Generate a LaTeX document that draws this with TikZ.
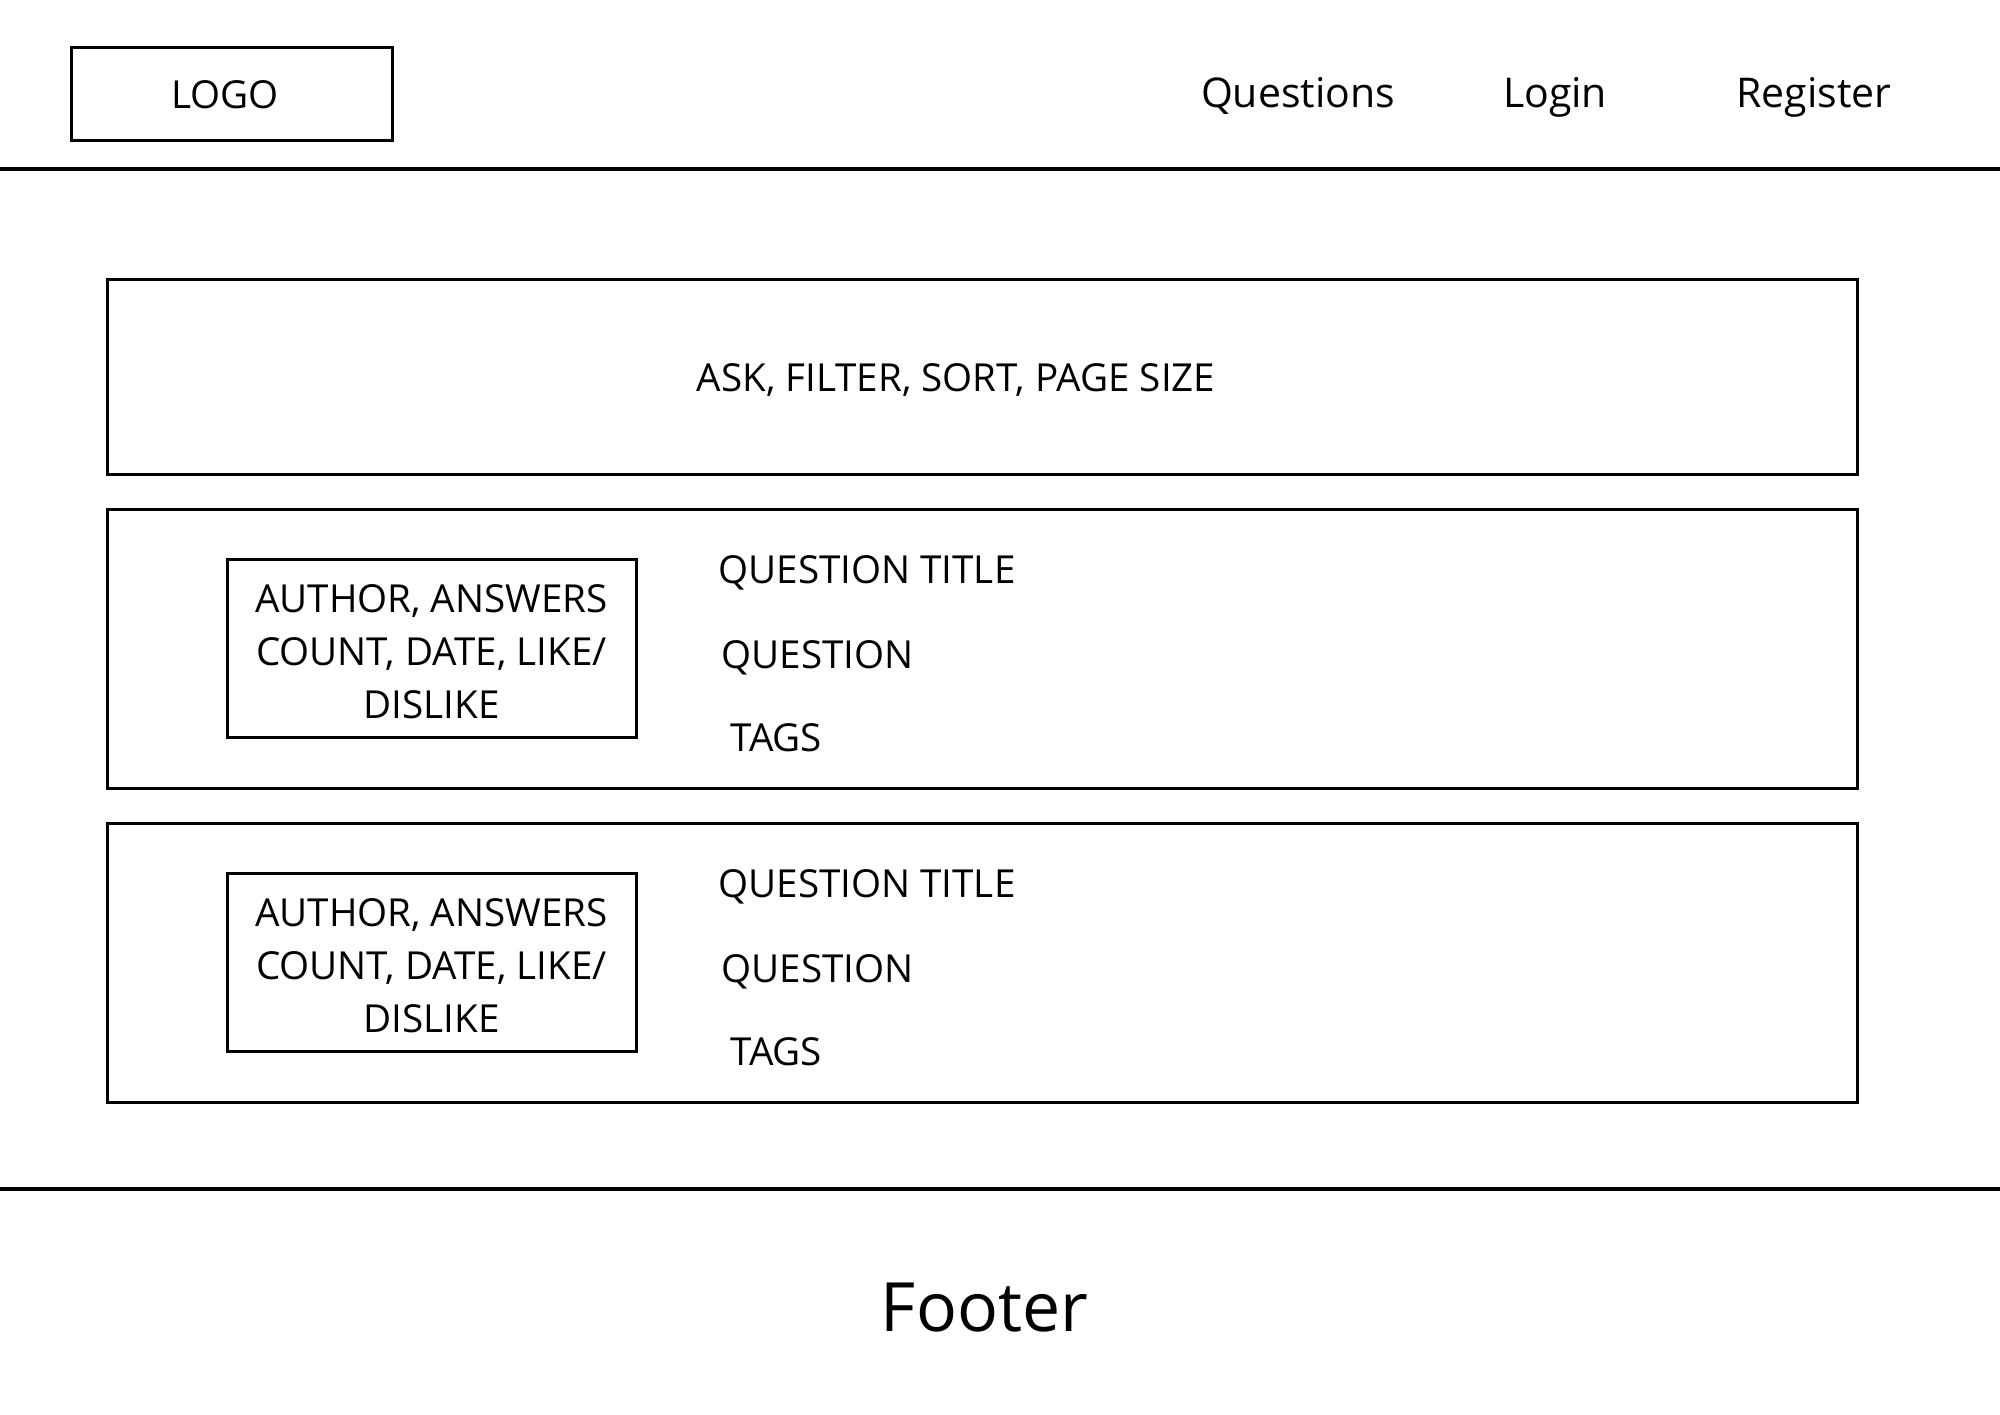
\documentclass[tikz,border=0pt]{standalone}
\usepackage{fontspec}
\setmainfont{Open Sans}
\begin{document}
\begin{tikzpicture}[x=0.5pt,y=-0.5pt,
  frame/.style={draw=black,line width=1.5pt},
  txt/.style={inner sep=0pt,font=\fontsize{19.3pt}{26.5pt}\selectfont},
  navtxt/.style={inner sep=0pt,font=\fontsize{20.5pt}{24pt}\selectfont},
  sep/.style={draw=black,line width=1.6pt}]
\useasboundingbox (0,0) rectangle (2000,1414);
% header
\draw[frame] (71,47) rectangle (392,140);
\node[txt,anchor=base] (logo) at (225,108) {LOGO};
\node[navtxt,anchor=base] (nq) at (1298,107) {Questions};
\node[navtxt,anchor=base] (nl) at (1555,107) {Login};
\node[navtxt,anchor=base] (nr) at (1814,107) {Register};
\coordinate (hl) at (0,169); \coordinate (hr) at (2000,169);
\draw[sep] (hl) -- (hr);
% toolbar
\draw[frame] (107,279) rectangle (1857,474);
\node[txt,anchor=base] (ask) at (956,391) {ASK, FILTER, SORT, PAGE SIZE};
% question cards
\foreach \dy/\n in {0/a,314/b}{
  \draw[frame] (107,509+\dy) rectangle (1857,788+\dy);
  \draw[frame] (227,559+\dy) rectangle (636,737+\dy);
  \node[txt,align=center] (meta\n) at (431.5,652+\dy) {AUTHOR, ANSWERS\\COUNT, DATE, LIKE/\\DISLIKE};
  \node[txt,anchor=base west] (title\n) at (718,583+\dy) {QUESTION TITLE};
  \node[txt,anchor=base west] (quest\n) at (721,668+\dy) {QUESTION};
  \node[txt,anchor=base west] (tags\n) at (730,751+\dy) {TAGS};
}
% footer
\coordinate (fl) at (0,1189); \coordinate (fr) at (2000,1189);
\draw[sep] (fl) -- (fr);
\node[inner sep=0pt,anchor=base,font=\fontsize{34pt}{40pt}\selectfont] (footer) at (984.5,1331) {Footer};
\end{tikzpicture}
\end{document}
